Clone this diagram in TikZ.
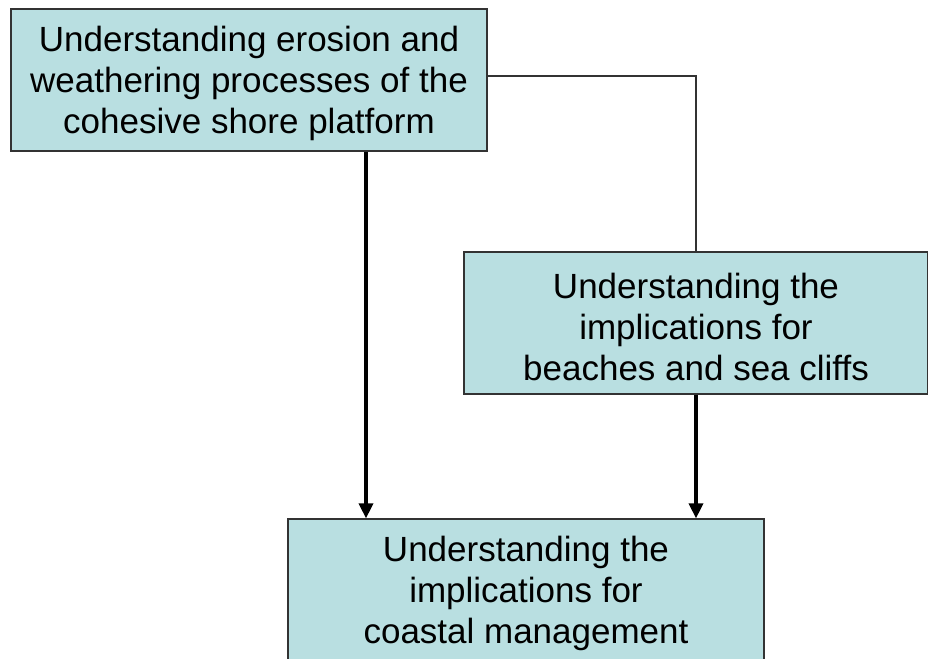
\documentclass[tikz,border=0pt]{standalone}
\usepackage{fontspec}
\setmainfont{Liberation Sans}
\usetikzlibrary{arrows.meta, positioning}

\definecolor{boxfill}{RGB}{185,223,225}

\begin{document}
\begin{tikzpicture}[
    x=1pt, y=-1pt,
    box/.style={rectangle, draw=black!80, line width=1.2pt, fill=boxfill, minimum width=476pt, minimum height=142pt, align=center, inner sep=0pt, text height=115pt, font=\fontsize{35}{41}\selectfont},
    arrow/.style={-{Triangle[length=15pt, width=14pt]}, line width=3.4pt},
    link/.style={line width=1.3pt, black!80}
]
\useasboundingbox (0,0) rectangle (928,658);

% Boxes
\node[box] (erosion) at (249,80) {Understanding erosion and\\weathering processes of the\\cohesive shore platform};
\node[box, minimum width=464pt] (beaches) at (696,323) {Understanding the\\implications for\\beaches and sea cliffs};
\node[box] (coastal) at (526,590) {Understanding the\\implications for\\coastal management};

% Connectors
\coordinate (leftx) at (366,0);
\draw[link] ([yshift=4pt]erosion.east) -| (beaches.north);
\draw[arrow] (erosion.south -| leftx) -- (coastal.north -| leftx);
\draw[arrow] (beaches.south) -- (coastal.north -| beaches.south);

\end{tikzpicture}
\end{document}
